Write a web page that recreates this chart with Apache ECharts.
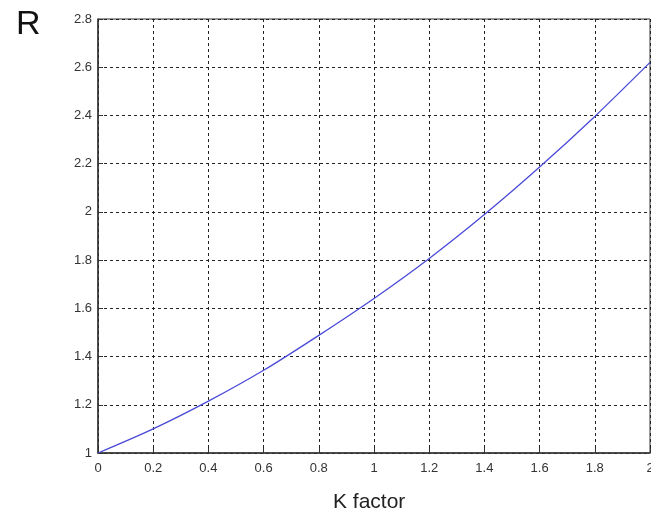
<!DOCTYPE html>
<html><head><meta charset="utf-8">
<script src="https://cdn.jsdelivr.net/npm/echarts@6/dist/echarts.min.js"></script>
<style>html,body{margin:0;padding:0;background:#fff}#c{width:651px;height:521px}</style>
</head><body><div id="c"></div>
<script>
const kFactor = [0,0.2,0.4,0.6,0.8,1.0,1.2,1.4,1.6,1.8,2.0];
const rValues = [1.0,1.10,1.215,1.343,1.488,1.641,1.807,1.989,2.186,2.396,2.62];
const xTitle = 'K factor';
const yTitle = 'R';
const chart = echarts.init(document.getElementById('c'));
const data = kFactor.map((k,i)=>[k, rValues[i]]);
chart.setOption({
  animation:false,
  grid:{left:98,right:1,top:19,bottom:68,show:true,borderColor:'#333',borderWidth:1,outerBoundsMode:'none'},
  graphic:[
    {type:'text',left:16,top:8,style:{text:yTitle,font:'34px "Liberation Sans", Arial',fill:'#111'}},
    {type:'text',left:333,top:492,style:{text:xTitle,font:'21px "Liberation Sans", Arial',fill:'#222'}}
  ],
  xAxis:{type:'value',min:0,max:2,interval:0.2,
    axisLine:{show:true,lineStyle:{color:'#333',width:1.5}},
    axisTick:{inside:true,length:5,lineStyle:{color:'#333'}},
    axisLabel:{color:'#333',fontSize:13,margin:9,fontFamily:'Liberation Sans',formatter:v=>String(+v.toFixed(1))},
    splitLine:{show:true,lineStyle:{color:'#222',type:[3,3],width:1}}},
  yAxis:{type:'value',min:1,max:2.8,interval:0.2,
    axisLine:{show:true,lineStyle:{color:'#333',width:1.5}},
    axisTick:{inside:true,length:5,lineStyle:{color:'#333'}},
    axisLabel:{color:'#333',fontSize:13,margin:6,fontFamily:'Liberation Sans',formatter:v=>String(+v.toFixed(1))},
    splitLine:{show:true,lineStyle:{color:'#222',type:[3,3],width:1}}},
  series:[{type:'line',data:data,smooth:0.3,symbol:'none',lineStyle:{color:'#4a4ad8',width:1.3}}]
});
</script></body></html>
